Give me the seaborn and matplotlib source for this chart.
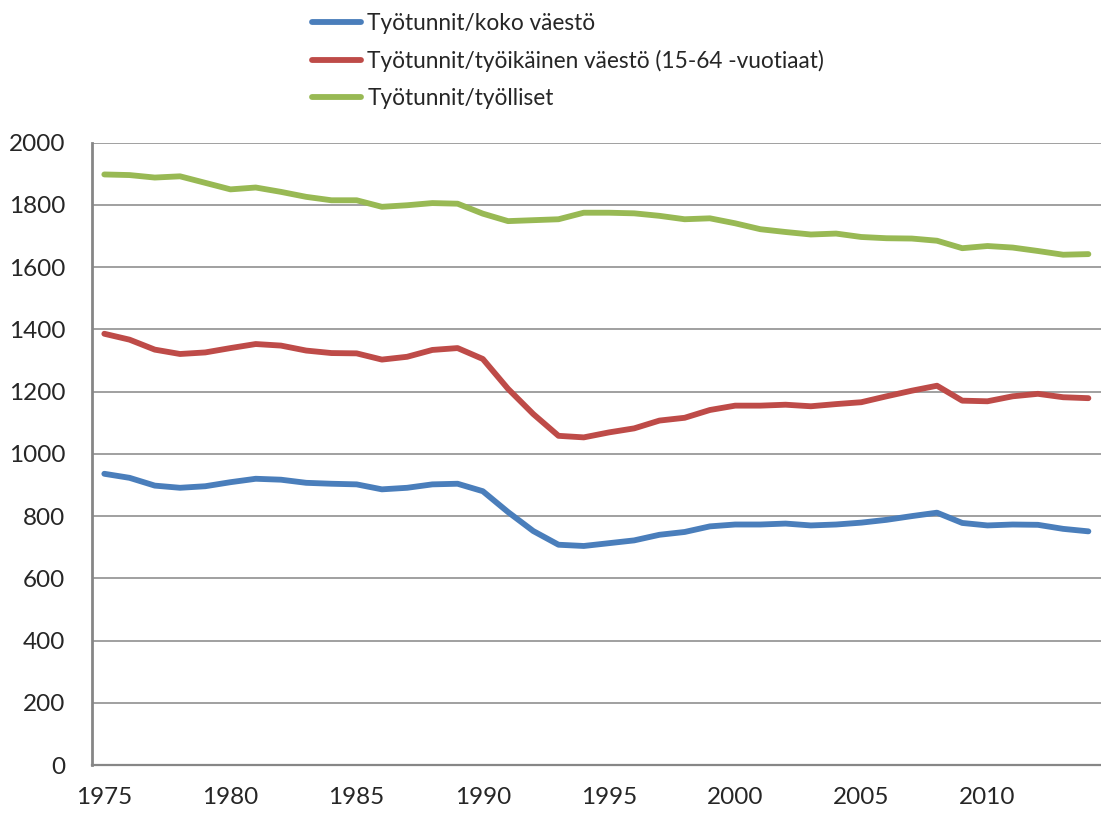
import numpy as np
import pandas as pd
import seaborn as sns
import matplotlib
matplotlib.use("Agg")
import matplotlib.pyplot as plt

# data (hours per person per year)
years = list(range(1975, 2015))
koko_vaesto = [936, 923, 898, 891, 896, 909, 920, 917, 907, 904,
               902, 886, 891, 902, 904, 880, 813, 752, 708, 704,
               713, 722, 740, 749, 767, 773, 773, 776, 770, 773,
               779, 788, 800, 811, 778, 770, 773, 772, 759, 751]
tyoikainen = [1386, 1367, 1335, 1321, 1326, 1340, 1353, 1348, 1332, 1324,
              1323, 1303, 1312, 1334, 1340, 1305, 1209, 1128, 1058, 1053,
              1069, 1082, 1107, 1116, 1141, 1155, 1155, 1158, 1153, 1160,
              1166, 1185, 1203, 1219, 1171, 1169, 1185, 1193, 1182, 1179]
tyolliset = [1898, 1896, 1888, 1892, 1871, 1850, 1856, 1842, 1826, 1815,
             1815, 1794, 1799, 1806, 1804, 1772, 1748, 1751, 1754, 1775,
             1775, 1773, 1765, 1754, 1757, 1741, 1722, 1713, 1705, 1708,
             1697, 1693, 1692, 1685, 1661, 1668, 1663, 1652, 1640, 1642]
series_names = ["Työtunnit/koko väestö",
                "Työtunnit/työikäinen väestö (15-64 -vuotiaat)",
                "Työtunnit/työlliset"]
colors = ["#4A7EBB", "#BE4B48", "#98B954"]

df = pd.DataFrame({
    "vuosi": years * 3,
    "tunnit": koko_vaesto + tyoikainen + tyolliset,
    "sarja": [series_names[0]] * len(years) + [series_names[1]] * len(years)
             + [series_names[2]] * len(years),
})

sns.set_style("white")
plt.rcParams["font.family"] = ["Lato", "DejaVu Sans"]

fig = plt.figure(figsize=(11.01, 8.15), dpi=100)
ax = fig.add_axes([0.0833, 0.0613, 0.9167, 0.7636])

sns.lineplot(data=df, x="vuosi", y="tunnit", hue="sarja", hue_order=series_names,
             palette=colors, linewidth=4.2, legend=False, ax=ax)

grey = "#868686"
ax.set_xlim(1974.5, 2014.5)
ax.set_ylim(0, 2000)
ax.set_yticks(np.arange(0, 2001, 200))
ax.yaxis.grid(True, color=grey, linewidth=1.1)
ax.set_axisbelow(True)

# tick marks sit between categories, labels at category centres
ax.set_xticks(np.arange(1979.5, 2014, 5))
ax.set_xticklabels([])
ax.set_xticks(np.arange(1975, 2015, 5), minor=True)
ax.set_xticklabels([str(y) for y in range(1975, 2015, 5)], minor=True)
ax.tick_params(axis="x", which="major", direction="in", length=6, width=1.1, color=grey)
ax.tick_params(axis="x", which="minor", length=0, pad=16, labelsize=17.5)
ax.tick_params(axis="y", direction="in", length=6, width=1.1, color=grey, pad=19, labelsize=17.5)

for side in ["top", "right"]:
    ax.spines[side].set_visible(False)
ax.spines["left"].set_color(grey)
ax.spines["left"].set_linewidth(2)
ax.spines["bottom"].set_color(grey)
ax.spines["bottom"].set_linewidth(1.6)
ax.set_xlabel("")
ax.set_ylabel("")

ax.legend(ax.lines[:3], series_names, loc="upper left",
          bbox_to_anchor=(312 / 1101, 1 - 13 / 815), bbox_transform=fig.transFigure,
          frameon=False, fontsize=16.3, handlelength=2.15, handletextpad=0.3,
          labelspacing=0.7, borderpad=0, borderaxespad=0)

plt.savefig("out.png", dpi=100)
